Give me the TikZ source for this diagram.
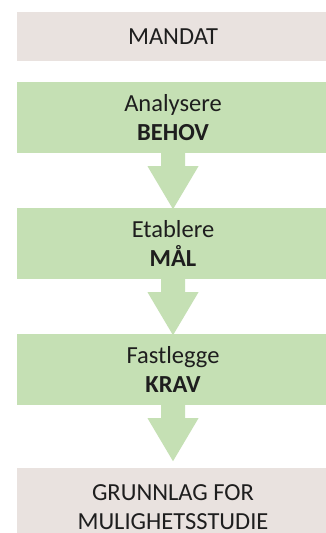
\documentclass[tikz,border=0pt]{standalone}
\usepackage{fontspec}
\setmainfont{Carlito}
\usetikzlibrary{calc}
\definecolor{stagegray}{HTML}{E9E2DF}
\definecolor{stagegreen}{HTML}{C5E0B4}
\definecolor{inktext}{HTML}{1E1E1E}
\tikzset{
  stagebox/.style={rectangle, inner sep=0pt, minimum width=312pt, text=inktext,
    align=center, font=\fontsize{24.5}{29.5}\selectfont},
  graybox/.style={stagebox, fill=stagegray},
  greenbox/.style={stagebox, fill=stagegreen, minimum height=71pt},
  flowarrow/.style={fill=stagegreen}
}
% block arrow hanging below a box: shaft 24 wide, 13 long; head 51 wide, 43 long
\newcommand{\blockarrow}[1]{%
  \fill[flowarrow]
    ($(#1.south)+(-12,0)$) -- ($(#1.south)+(12,0)$) --
    ($(#1.south)+(12,13)$) -- ($(#1.south)+(25.5,13)$) --
    ($(#1.south)+(0,56)$) -- ($(#1.south)+(-25.5,13)$) --
    ($(#1.south)+(-12,13)$) -- cycle;}
\begin{document}
\begin{tikzpicture}[x=1pt,y=-1pt]
  \useasboundingbox (0,0) rectangle (326,533);
  \clip (0,0) rectangle (326,533);
  \fill[white] (0,0) rectangle (326,533);

  \node[graybox, minimum height=49pt] (mandat) at (173,36.5) {MANDAT};
  \node[greenbox] (behov) at (173,117.5) {Analysere\\\textbf{BEHOV}};
  \node[greenbox] (maal) at (173,243.5) {Etablere\\\textbf{MÅL}};
  \node[greenbox] (krav) at (173,369.5) {Fastlegge\\\textbf{KRAV}};
  \node[graybox, minimum height=78pt] (grunnlag) at (173,507)
    {GRUNNLAG FOR\\MULIGHETSSTUDIE};

  \blockarrow{behov}
  \blockarrow{maal}
  \blockarrow{krav}
\end{tikzpicture}
\end{document}
